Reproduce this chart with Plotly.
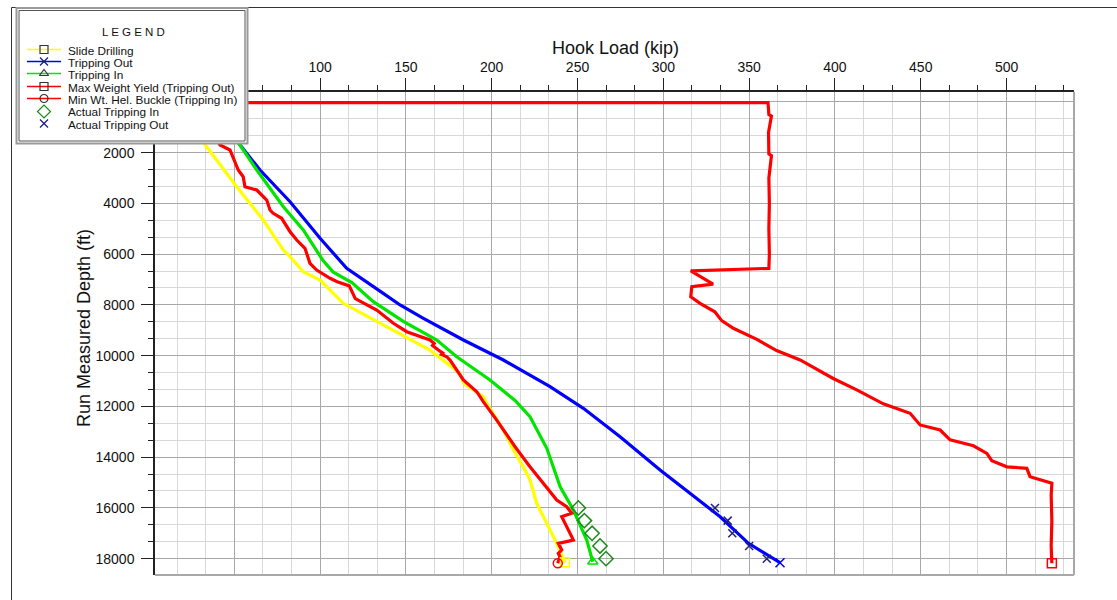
import plotly.graph_objects as go

FONT = "Arial, Liberation Sans, sans-serif"
W, H = 1117, 600

# ---------------- data ----------------
slide_depth = [0, 1766, 3342, 4654, 5837, 6101, 6692, 7019, 7937, 8859, 9785, 10696, 11090,
               11618, 11878, 12931, 13194, 13720, 14377, 14897, 15819, 16873, 17396, 18145]
slide_load = [15, 33.9, 51.4, 66.9, 78.6, 82.5, 90.2, 100.0, 113.5, 139.0, 164.0, 181.5, 183.5,
              195.1, 197.1, 206.8, 208.8, 212.6, 218.4, 222.3, 226.2, 234.0, 237.9, 242.7]

tout_depth = [0, 1699, 2684, 3933, 5375, 6558, 7543, 8004, 8528, 9384, 10172, 11224, 12075,
              13194, 14507, 16016, 16347, 17396, 18160]
tout_load = [30, 53.4, 65.0, 82.5, 100.0, 115.5, 136.8, 146.6, 160.2, 183.5, 206.8, 234.0, 253.4,
             274.8, 298.1, 327.2, 333.1, 349.6, 368.0]

tin_depth = [0, 1699, 2684, 4130, 5048, 5837, 6230, 6700, 7120, 7870, 8650, 9384, 10042, 10958,
             11767, 12406, 13650, 15165, 16083, 17265, 18120]
tin_load = [30, 53.3, 63.1, 78.6, 90.2, 98.0, 101.5, 107.5, 118.5, 131.0, 148.5, 168.0, 179.6, 199.0,
            213.6, 222.3, 232.1, 239.9, 247.6, 255.4, 258.9]

yield_depth = [30, 30, 500, 560, 1200, 2050, 2120, 3000, 4000, 5000, 6000, 6560, 6660, 7180, 7280,
               7680, 7940, 8270, 8620, 8920, 9360, 9800, 10170, 10900, 11350, 11900, 12270, 12730,
               12930, 13320, 13550, 13850, 14140, 14380, 14440, 14770, 15030, 15500, 16500, 17500, 18180]
yield_load = [20, 361, 361.5, 363, 361.3, 361.5, 363, 361.5, 361.8, 361.5, 361.8, 361.5, 316, 329, 316.6,
              316, 321.4, 330, 334, 340.8, 354.5, 366, 379.7, 399, 412.7, 428.2, 443.8, 449.6,
              461.3, 467.1, 480.7, 488.5, 491.4, 500.2, 511.8, 513.7, 526.4, 526.0, 526.4, 526.0, 526.4]

buckle_depth = [0, 1699, 1896, 2420, 2684, 2948, 3342, 3472, 3866, 4260, 4390, 4587, 4918, 5115,
                5443, 5770, 6361, 6625, 6952, 7086, 7250, 7750, 8201, 8725, 9056, 9384, 9520, 9600,
                9778, 9900, 9950, 10042, 10172, 10958, 11420, 11810, 12540, 13589, 14377, 15031,
                15688, 15953, 16213, 16347, 16741, 17265, 17396, 17660, 17790, 17923, 18184]
buckle_load = [25, 41.7, 47.5, 50.4, 52.3, 55.2, 56.2, 63.1, 68.9, 70.8, 72.7, 77.6, 80.5, 82.5,
               86.4, 91.2, 94.1, 98.0, 105.8, 110.0, 117.0, 120.5, 133.0, 142.7, 150.5, 164.0, 166.5, 165.5,
               168.9, 171.5, 170.8, 173.8, 175.7, 183.5, 191.3, 195.1, 202.9, 213.6, 222.3, 230.1,
               237.9, 243.7, 246.6, 240.8, 243.7, 247.6, 238.8, 240.8, 238.8, 239.8, 238.5]

act_in_depth = [16000, 16500, 17000, 17500, 18000]
act_in_load = [250.5, 254.0, 258.5, 263.1, 266.6]

act_out_depth = [16000, 16500, 17000, 17500, 18000]
act_out_load = [330.1, 337.5, 340.2, 350.0, 360.3]

x_range = [3.8, 539.3]
y_range = [18644, -402]

x_tickvals = [50, 100, 150, 200, 250, 300, 350, 400, 450, 500]
x_ticktext = ["", "100", "150", "200", "250", "300", "350", "400", "450", "500"]
y_tickvals = [0, 2000, 4000, 6000, 8000, 10000, 12000, 14000, 16000, 18000]
y_ticktext = ["", "2000", "4000", "6000", "8000", "10000", "12000", "14000", "16000", "18000"]

legend_labels = ["Slide Drilling", "Tripping Out", "Tripping In", "Max Weight Yield (Tripping Out)",
                 "Min Wt. Hel. Buckle (Tripping In)", "Actual Tripping In", "Actual Tripping Out"]

# ---------------- figure ----------------
PX_L, PX_R, PY_T, PY_B = 155, 1074, 91.7, 575

fig = go.Figure()

curves = [
    (slide_load, slide_depth, "#FFFF00", "square-open"),
    (tout_load, tout_depth, "#0000FF", "x-thin-open"),
    (tin_load, tin_depth, "#00E400", "triangle-up-open"),
    (yield_load, yield_depth, "#FF0000", "square-open"),
    (buckle_load, buckle_depth, "#FF0000", "circle-open"),
]
for xs, ys, col, sym in curves:
    fig.add_trace(go.Scatter(x=xs, y=ys, mode="lines", line=dict(color=col, width=3.2),
                             showlegend=False, hoverinfo="skip"))
for xs, ys, col, sym in curves:
    fig.add_trace(go.Scatter(x=[xs[-1]], y=[ys[-1]], mode="markers", showlegend=False,
                             marker=dict(symbol=sym, size=9, color=col, line=dict(color=col, width=1.5))))

fig.add_trace(go.Scatter(x=act_in_load, y=act_in_depth, mode="markers", showlegend=False,
                         marker=dict(symbol="diamond-open", size=11, color="#1a8a1a",
                                     line=dict(color="#1a8a1a", width=1.5))))
fig.add_trace(go.Scatter(x=act_out_load, y=act_out_depth, mode="markers", showlegend=False,
                         marker=dict(symbol="x-thin-open", size=8, color="#202080",
                                     line=dict(color="#202080", width=1.5))))

# ---------------- custom legend in its own (overlapping) subplot ----------------
leg_rows_y = [49.5, 61.5, 73.5, 86.5, 98.5, 111.5, 123.5]
leg_text_y = [50.5, 62.6, 74.8, 87.6, 99.8, 112.4, 124.6]
leg_style = [
    ("#FFFF00", "square-open", "#333333", True),
    ("#0000FF", "x-thin-open", "#1a1a80", True),
    ("#00E400", "triangle-up-open", "#333333", True),
    ("#FF0000", "square-open", "#333333", True),
    ("#FF0000", "circle-open", "#333333", True),
    (None, "diamond-open", "#1a8a1a", False),
    (None, "x-thin-open", "#1a1a80", False),
]
for yy, (lc, sym, mc, has_line) in zip(leg_rows_y, leg_style):
    if has_line:
        fig.add_trace(go.Scatter(x=[27, 61], y=[yy, yy], mode="lines", xaxis="x2", yaxis="y2",
                                 line=dict(color=lc, width=1.5), showlegend=False, hoverinfo="skip"))
    fig.add_trace(go.Scatter(x=[44], y=[yy], mode="markers", xaxis="x2", yaxis="y2",
                             showlegend=False, hoverinfo="skip",
                             marker=dict(symbol=sym, size=8 if sym != "diamond-open" else 10,
                                         color=mc, line=dict(color=mc, width=1.2))))

annotations = [
    dict(text="L E G E N D", x=133.3, y=31.7, xref="x2", yref="y2", showarrow=False,
         font=dict(family=FONT, size=11.5, color="#111"), xanchor="center", yanchor="middle"),
    dict(text="Hook Load (kip)", x=615 / W, y=1 - 48 / H, xref="paper", yref="paper", showarrow=False,
         font=dict(family=FONT, size=18, color="#111"), xanchor="center", yanchor="middle"),
    dict(text="Run Measured Depth (ft)", x=84 / W, y=1 - 328 / H, xref="paper", yref="paper",
         showarrow=False, textangle=-90,
         font=dict(family=FONT, size=18, color="#111"), xanchor="center", yanchor="middle"),
]
for ty, lab in zip(leg_text_y, legend_labels):
    annotations.append(dict(text=lab, x=65.5, y=ty, xref="x2", yref="y2", showarrow=False,
                            xanchor="left", yanchor="middle",
                            font=dict(family=FONT, size=11.8, color="#111")))

def pxx(v):
    return v / W

def pyy(v):
    return 1 - v / H

shapes = [
    # outer frame of the picture
    dict(type="line", xref="paper", yref="paper", x0=pxx(11.5), x1=pxx(11.5), y0=0, y1=pyy(7.5),
         line=dict(color="#333", width=1)),
    dict(type="line", xref="paper", yref="paper", x0=pxx(11.5), x1=1, y0=pyy(7.5), y1=pyy(7.5),
         line=dict(color="#333", width=1)),
    # right and bottom border of the plot area
    dict(type="line", xref="paper", yref="paper", x0=pxx(PX_R), x1=pxx(PX_R), y0=pyy(PY_B), y1=pyy(PY_T),
         line=dict(color="#a8a8a8", width=2)),
    dict(type="line", xref="paper", yref="paper", x0=pxx(PX_L), x1=pxx(PX_R), y0=pyy(PY_B), y1=pyy(PY_B),
         line=dict(color="#a8a8a8", width=2)),
    # legend box borders
    dict(type="rect", xref="paper", yref="paper", x0=pxx(16.5), x1=pxx(247.5), y0=pyy(143.5), y1=pyy(8),
         line=dict(color="#9a9a9a", width=2)),
    dict(type="rect", xref="paper", yref="paper", x0=pxx(19), x1=pxx(245), y0=pyy(141), y1=pyy(10.5),
         line=dict(color="#555", width=1)),
]

axis_common = dict(
    ticks="outside", ticklen=12, tickwidth=1, tickcolor="#222",
    showline=True, linecolor="#222", linewidth=1.5,
    showgrid=True, gridcolor="#a8a8a8", gridwidth=1, zeroline=False,
    tickfont=dict(family=FONT, size=14, color="#111"),
)

fig.update_layout(
    width=W, height=H, autosize=False,
    margin=dict(l=0, r=0, t=0, b=0, pad=0),
    paper_bgcolor="white", plot_bgcolor="white",
    showlegend=False,
    xaxis=dict(domain=[PX_L / W, PX_R / W], side="top", range=x_range, tickmode="array",
               tickvals=x_tickvals, ticktext=x_ticktext, anchor="y",
               minor=dict(tickmode="linear", tick0=0, dtick=50 / 3, ticks="outside", ticklen=5,
                          tickcolor="#222", showgrid=True, gridcolor="#d8d8d8", gridwidth=1),
               **axis_common),
    yaxis=dict(domain=[1 - PY_B / H, 1 - PY_T / H], range=y_range, tickmode="array",
               tickvals=y_tickvals, ticktext=y_ticktext, anchor="x", ticklabelstandoff=4,
               minor=dict(tickmode="linear", tick0=0, dtick=2000 / 3, ticks="outside", ticklen=5,
                          tickcolor="#222", showgrid=True, gridcolor="#d8d8d8", gridwidth=1),
               **axis_common),
    xaxis2=dict(domain=[16 / W, 248 / W], range=[16, 248], visible=False, anchor="y2", fixedrange=True),
    yaxis2=dict(domain=[1 - 144 / H, 1 - 7.3 / H], range=[144, 7.3], visible=False, anchor="x2",
                fixedrange=True),
    annotations=annotations,
    shapes=shapes,
)

fig.write_html("out.html", config={"displayModeBar": False},
               post_script="document.body.style.margin='0px';")
